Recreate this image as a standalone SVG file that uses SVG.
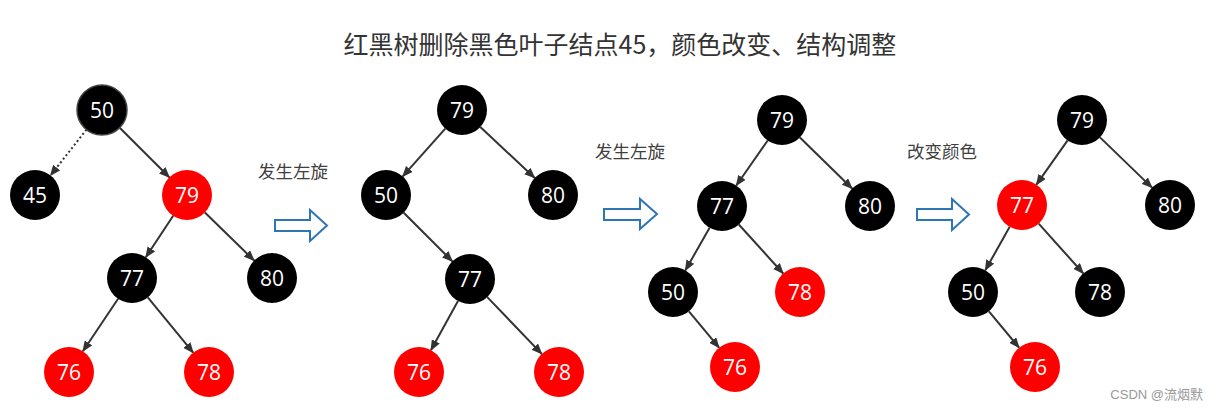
<svg xmlns="http://www.w3.org/2000/svg" width="1217" height="411" viewBox="0 0 1217 411">
<style>
.nb{fill:#000}
.nr{fill:#ff0000}
.nt{fill:#fff;font-family:"Open Sans","Noto Sans",sans-serif;font-size:21px;text-anchor:middle}
.e{stroke:#333;stroke-width:2;fill:none;marker-end:url(#ah)}
.dot{stroke-dasharray:2 2.5}
.ba{fill:#fff;stroke:#2e75b6;stroke-width:2;stroke-linejoin:miter}
.lb{fill:#404040;font-family:"Noto Sans CJK SC",sans-serif;font-size:17.5px}
</style>
<defs>
<marker id="ah" markerUnits="userSpaceOnUse" markerWidth="11" markerHeight="9" refX="10" refY="4.5" orient="auto">
<path d="M0,0 L11,4.5 L0,9 z" fill="#333"/>
</marker>
</defs>
<rect width="1217" height="411" fill="#fff"/>
<text x="620" y="54" text-anchor="middle" fill="#333" font-family="Noto Sans CJK SC, sans-serif" font-size="25">红黑树删除黑色叶子结点45，颜色改变、结构调整</text>
<g id="connectors">
<line class="e dot" x1="86.5" y1="129.6" x2="50.5" y2="175.4"/>
<line class="e" x1="119.7" y1="127.7" x2="169.3" y2="177.3"/>
<line class="e" x1="173.2" y1="215.8" x2="145.8" y2="257.2"/>
<line class="e" x1="204.9" y1="212.5" x2="254.1" y2="260.5"/>
<line class="e" x1="118.1" y1="298.8" x2="82.9" y2="351.2"/>
<line class="e" x1="147.8" y1="297.3" x2="193.2" y2="352.7"/>
<line class="e" x1="445.3" y1="128.6" x2="402.7" y2="176.4"/>
<line class="e" x1="480.3" y1="127.1" x2="534.7" y2="177.9"/>
<line class="e" x1="403.7" y1="212.7" x2="452.3" y2="261.3"/>
<line class="e" x1="458" y1="300.9" x2="431" y2="350.1"/>
<line class="e" x1="487.3" y1="297.1" x2="541.7" y2="353.9"/>
<line class="e" x1="767.7" y1="140.5" x2="736.3" y2="185.5"/>
<line class="e" x1="799.9" y1="137.5" x2="852.1" y2="188.5"/>
<line class="e" x1="709.6" y1="227.7" x2="685.4" y2="270.3"/>
<line class="e" x1="738.8" y1="224.5" x2="783.2" y2="273.5"/>
<line class="e" x1="688.9" y1="311.3" x2="719.1" y2="347.7"/>
<line class="e" x1="1067.6" y1="140.4" x2="1036.4" y2="184.6"/>
<line class="e" x1="1100" y1="137.4" x2="1152" y2="187.6"/>
<line class="e" x1="1009.7" y1="226.8" x2="985.3" y2="270.2"/>
<line class="e" x1="1038.7" y1="223.6" x2="1083.3" y2="273.4"/>
<line class="e" x1="988.9" y1="311.3" x2="1019.1" y2="347.7"/>
</g>
<g id="t1-50"><circle cx="102" cy="110" r="25" class="nb" stroke="#444" stroke-width="1.5"/><text x="102" y="117.5" class="nt">50</text></g>
<g id="t1-45"><circle cx="35" cy="195" r="25" class="nb"/><text x="35" y="202.5" class="nt">45</text></g>
<g id="t1-79"><circle cx="187" cy="195" r="25" class="nr"/><text x="187" y="202.5" class="nt">79</text></g>
<g id="t1-77"><circle cx="132" cy="278" r="25" class="nb"/><text x="132" y="285.5" class="nt">77</text></g>
<g id="t1-80"><circle cx="272" cy="278" r="25" class="nb"/><text x="272" y="285.5" class="nt">80</text></g>
<g id="t1-76"><circle cx="69" cy="372" r="25" class="nr"/><text x="69" y="379.5" class="nt">76</text></g>
<g id="t1-78"><circle cx="209" cy="372" r="25" class="nr"/><text x="209" y="379.5" class="nt">78</text></g>

<g id="t2-79"><circle cx="462" cy="110" r="25" class="nb"/><text x="462" y="117.5" class="nt">79</text></g>
<g id="t2-50"><circle cx="386" cy="195" r="25" class="nb"/><text x="386" y="202.5" class="nt">50</text></g>
<g id="t2-80"><circle cx="553" cy="195" r="25" class="nb"/><text x="553" y="202.5" class="nt">80</text></g>
<g id="t2-77"><circle cx="470" cy="279" r="25" class="nb"/><text x="470" y="286.5" class="nt">77</text></g>
<g id="t2-76"><circle cx="419" cy="372" r="25" class="nr"/><text x="419" y="379.5" class="nt">76</text></g>
<g id="t2-78"><circle cx="559" cy="372" r="25" class="nr"/><text x="559" y="379.5" class="nt">78</text></g>

<g id="t3-79"><circle cx="782" cy="120" r="25" class="nb"/><text x="782" y="127.5" class="nt">79</text></g>
<g id="t3-77"><circle cx="722" cy="206" r="25" class="nb"/><text x="722" y="213.5" class="nt">77</text></g>
<g id="t3-80"><circle cx="870" cy="206" r="25" class="nb"/><text x="870" y="213.5" class="nt">80</text></g>
<g id="t3-50"><circle cx="673" cy="292" r="25" class="nb"/><text x="673" y="299.5" class="nt">50</text></g>
<g id="t3-78"><circle cx="800" cy="292" r="25" class="nr"/><text x="800" y="299.5" class="nt">78</text></g>
<g id="t3-76"><circle cx="735" cy="367" r="25" class="nr"/><text x="735" y="374.5" class="nt">76</text></g>

<g id="t4-79"><circle cx="1082" cy="120" r="25" class="nb"/><text x="1082" y="127.5" class="nt">79</text></g>
<g id="t4-77"><circle cx="1022" cy="205" r="25" class="nr"/><text x="1022" y="212.5" class="nt">77</text></g>
<g id="t4-80"><circle cx="1170" cy="205" r="25" class="nb"/><text x="1170" y="212.5" class="nt">80</text></g>
<g id="t4-50"><circle cx="973" cy="292" r="25" class="nb"/><text x="973" y="299.5" class="nt">50</text></g>
<g id="t4-78"><circle cx="1100" cy="292" r="25" class="nb"/><text x="1100" y="299.5" class="nt">78</text></g>
<g id="t4-76"><circle cx="1035" cy="367" r="25" class="nr"/><text x="1035" y="374.5" class="nt">76</text></g>

<g id="step1"><path class="ba" d="M275,220 L310,220 L310,210 L327,225.5 L310,241 L310,231 L275,231 Z"/><text x="258" y="178" class="lb">发生左旋</text></g>
<g id="step2"><path class="ba" d="M604,209 L640,209 L640,199 L657,214 L640,229 L640,220 L604,220 Z"/><text x="595" y="158" class="lb">发生左旋</text></g>
<g id="step3"><path class="ba" d="M917,209 L952,209 L952,199 L969,214.5 L952,230 L952,220 L917,220 Z"/><text x="907" y="158" class="lb">改变颜色</text></g>
<text x="1203" y="399" text-anchor="end" fill="#999" font-family="Liberation Sans, Noto Sans CJK SC, sans-serif" font-size="13">CSDN @流烟默</text>
</svg>
